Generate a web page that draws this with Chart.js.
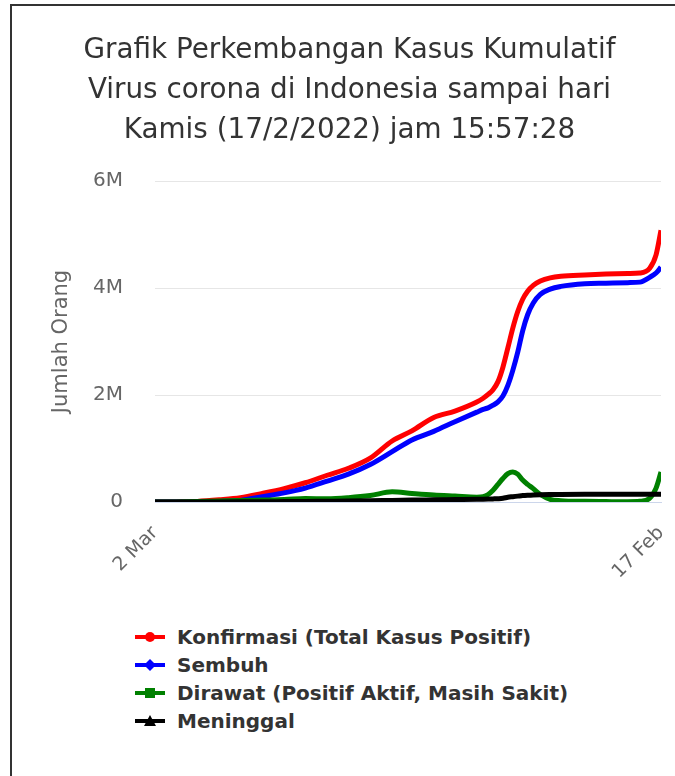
<!DOCTYPE html>
<html>
<head>
<meta charset="utf-8">
<script src="https://cdn.jsdelivr.net/npm/chart.js@4.4.1/dist/chart.umd.min.js"></script>
<style>
  html, body { margin: 0; padding: 0; background: #fff; overflow: hidden; }
  body { width: 675px; height: 776px; position: relative; }
  #frame { position: absolute; left: 10px; top: 4px; width: 700px; height: 800px; border-left: 2px solid #333; border-top: 2px solid #333; }
  #wrap { position: absolute; left: 13px; top: 8px; width: 673px; height: 600px; }
  #legend { position: absolute; left: 135px; top: 623px; font: bold 20px "DejaVu Sans", sans-serif; color: #333; }
  .item { height: 28px; line-height: 28px; display: flex; align-items: center; white-space: nowrap; }
  .item svg { margin-right: 12px; flex: none; }
</style>
</head>
<body>
<div id="frame"></div>
<div id="wrap"><canvas id="covidChart"></canvas></div>
<div id="legend"></div>
<script>
// days since 2 Mar 2020
const days = [0, 30, 60, 91, 121, 152, 183, 213, 244, 274, 305, 336, 364, 395, 425,
  456, 465, 472, 479, 486, 493, 500, 507, 514, 521, 528, 536, 546, 560, 575,
  609, 639, 670, 687, 701, 710, 717];

const konfirmasi = [0, 2000, 10000, 40000, 80000, 160000, 250000, 360000, 500000, 630000,
  820000, 1140000, 1330000, 1580000, 1700000,
  1870000, 1940000, 2010000, 2100000, 2250000, 2520000, 2880000, 3250000, 3560000, 3790000,
  3940000, 4050000, 4130000, 4190000, 4220000,
  4245000, 4260000, 4270000, 4280000, 4370000, 4620000, 5080000];

const sembuh = [0, 0, 2000, 10000, 30000, 100000, 170000, 260000, 390000, 520000,
  700000, 940000, 1160000, 1320000, 1500000,
  1680000, 1730000, 1760000, 1810000, 1870000, 1980000, 2180000, 2460000, 2800000, 3200000,
  3500000, 3720000, 3880000, 3980000, 4030000,
  4080000, 4090000, 4100000, 4110000, 4200000, 4280000, 4390000];

const dirawat = [0, 1500, 8000, 18000, 30000, 37000, 45000, 65000, 60000, 80000,
  120000, 190000, 160000, 130000, 110000,
  90000, 100000, 140000, 220000, 330000, 440000, 530000, 560000, 520000, 410000,
  330000, 250000, 140000, 50000, 25000,
  12000, 8000, 5000, 12000, 70000, 260000, 560000];

const meninggal = [0, 200, 800, 1700, 3000, 5000, 8000, 11000, 14000, 17000,
  22000, 30000, 36000, 41000, 46000,
  51000, 53000, 55000, 58000, 62000, 70000, 90000, 100000, 110000, 120000,
  127000, 133000, 137000, 140000, 142000,
  143400, 143900, 144100, 144200, 144400, 145100, 146000];

const seriesNames = ['Konfirmasi (Total Kasus Positif)', 'Sembuh', 'Dirawat (Positif Aktif, Masih Sakit)', 'Meninggal'];
const seriesColors = ['#ff0000', '#0000ff', '#008000', '#000000'];
const seriesMarkers = ['circle', 'rectRot', 'rect', 'triangle'];

const xTickDays = [0, 717];
const xTickLabels = ['2 Mar', '17 Feb'];
const yTickValues = [0, 2000000, 4000000, 6000000];
const yTickLabels = ['0', '2M', '4M', '6M'];

const titleLines = [
  'Grafik Perkembangan Kasus Kumulatif',
  'Virus corona di Indonesia sampai hari',
  'Kamis (17/2/2022) jam 15:57:28'
];

const toPoints = (vals) => vals.map((v, i) => ({ x: days[i], y: v }));
const allSeries = [konfirmasi, sembuh, dirawat, meninggal];

const datasets = allSeries.map((vals, i) => ({
  label: seriesNames[i],
  data: toPoints(vals),
  borderColor: seriesColors[i],
  backgroundColor: seriesColors[i],
  borderWidth: 5,
  pointRadius: 0,
  pointStyle: seriesMarkers[i],
  cubicInterpolationMode: 'monotone',
  fill: false,
  order: 4 - i   // later series drawn on top
}));

const chart = new Chart(document.getElementById('covidChart').getContext('2d'), {
  type: 'line',
  data: { datasets },
  options: {
    responsive: true,
    maintainAspectRatio: false,
    animation: false,
    layout: { padding: { left: 0, right: 0, top: 0, bottom: 26 } },
    plugins: {
      legend: { display: false },
      tooltip: { enabled: false },
      title: {
        display: true,
        text: titleLines,
        color: '#333333',
        font: { family: '"DejaVu Sans", sans-serif', size: 27.8, weight: 'normal', lineHeight: '40px' },
        padding: { top: 23, bottom: 30 }
      }
    },
    scales: {
      x: {
        type: 'linear',
        min: 0,
        max: 717,
        afterBuildTicks: (scale) => { scale.ticks = xTickDays.map(v => ({ value: v })); },
        afterFit: (scale) => {
          scale.height = 80;
          // rotated labels end at the tick, keep them from pushing the plot edges
          scale.paddingLeft = 0;
          scale.paddingRight = 0;
        },
        ticks: {
          autoSkip: false,
          maxRotation: 45,
          minRotation: 45,
          padding: 12,
          color: '#666666',
          font: { family: '"DejaVu Sans", sans-serif', size: 19 },
          callback: (v) => xTickLabels[xTickDays.indexOf(v)]
        },
        grid: { display: false },
        border: { display: true, color: '#ccd6eb', width: 1 }
      },
      y: {
        min: 0,
        max: 6000000,
        afterBuildTicks: (scale) => { scale.ticks = yTickValues.map(v => ({ value: v })); },
        afterFit: (scale) => { scale.width = 142; },
        ticks: {
          padding: 32,
          color: '#666666',
          font: { family: '"DejaVu Sans", sans-serif', size: 20 },
          callback: (v) => yTickLabels[yTickValues.indexOf(v)]
        },
        grid: { color: '#e6e6e6', lineWidth: 1, drawTicks: false },
        border: { display: false },
        title: {
          display: true,
          text: 'Jumlah Orang',
          color: '#666666',
          font: { family: '"DejaVu Sans", sans-serif', size: 21 },
          padding: { top: 36, bottom: 0 }
        }
      },
      // empty right-hand gutter so the title stays centred on the full frame
      gutter: {
        position: 'right',
        display: true,
        afterFit: (scale) => { scale.width = 25; },
        ticks: { display: false },
        grid: { display: false },
        border: { display: false }
      }
    }
  }
});

// HTML legend, one series per row
const svgNS = 'http://www.w3.org/2000/svg';
function markerSvg(color, style) {
  const svg = document.createElementNS(svgNS, 'svg');
  svg.setAttribute('width', 30);
  svg.setAttribute('height', 14);
  const line = document.createElementNS(svgNS, 'line');
  line.setAttribute('x1', 0); line.setAttribute('x2', 30);
  line.setAttribute('y1', 7); line.setAttribute('y2', 7);
  line.setAttribute('stroke', color); line.setAttribute('stroke-width', 4);
  svg.appendChild(line);
  let m;
  if (style === 'circle') {
    m = document.createElementNS(svgNS, 'circle');
    m.setAttribute('cx', 15); m.setAttribute('cy', 7); m.setAttribute('r', 5);
  } else if (style === 'rect') {
    m = document.createElementNS(svgNS, 'rect');
    m.setAttribute('x', 10); m.setAttribute('y', 2); m.setAttribute('width', 10); m.setAttribute('height', 10);
  } else if (style === 'rectRot') {
    m = document.createElementNS(svgNS, 'polygon');
    m.setAttribute('points', '15,1 21,7 15,13 9,7');
  } else {
    m = document.createElementNS(svgNS, 'polygon');
    m.setAttribute('points', '15,1 21,12 9,12');
  }
  m.setAttribute('fill', color);
  svg.appendChild(m);
  return svg;
}

const legendEl = document.getElementById('legend');
chart.data.datasets.forEach(ds => {
  const row = document.createElement('div');
  row.className = 'item';
  row.appendChild(markerSvg(ds.borderColor, ds.pointStyle));
  const span = document.createElement('span');
  span.textContent = ds.label;
  row.appendChild(span);
  legendEl.appendChild(row);
});
</script>
</body>
</html>
